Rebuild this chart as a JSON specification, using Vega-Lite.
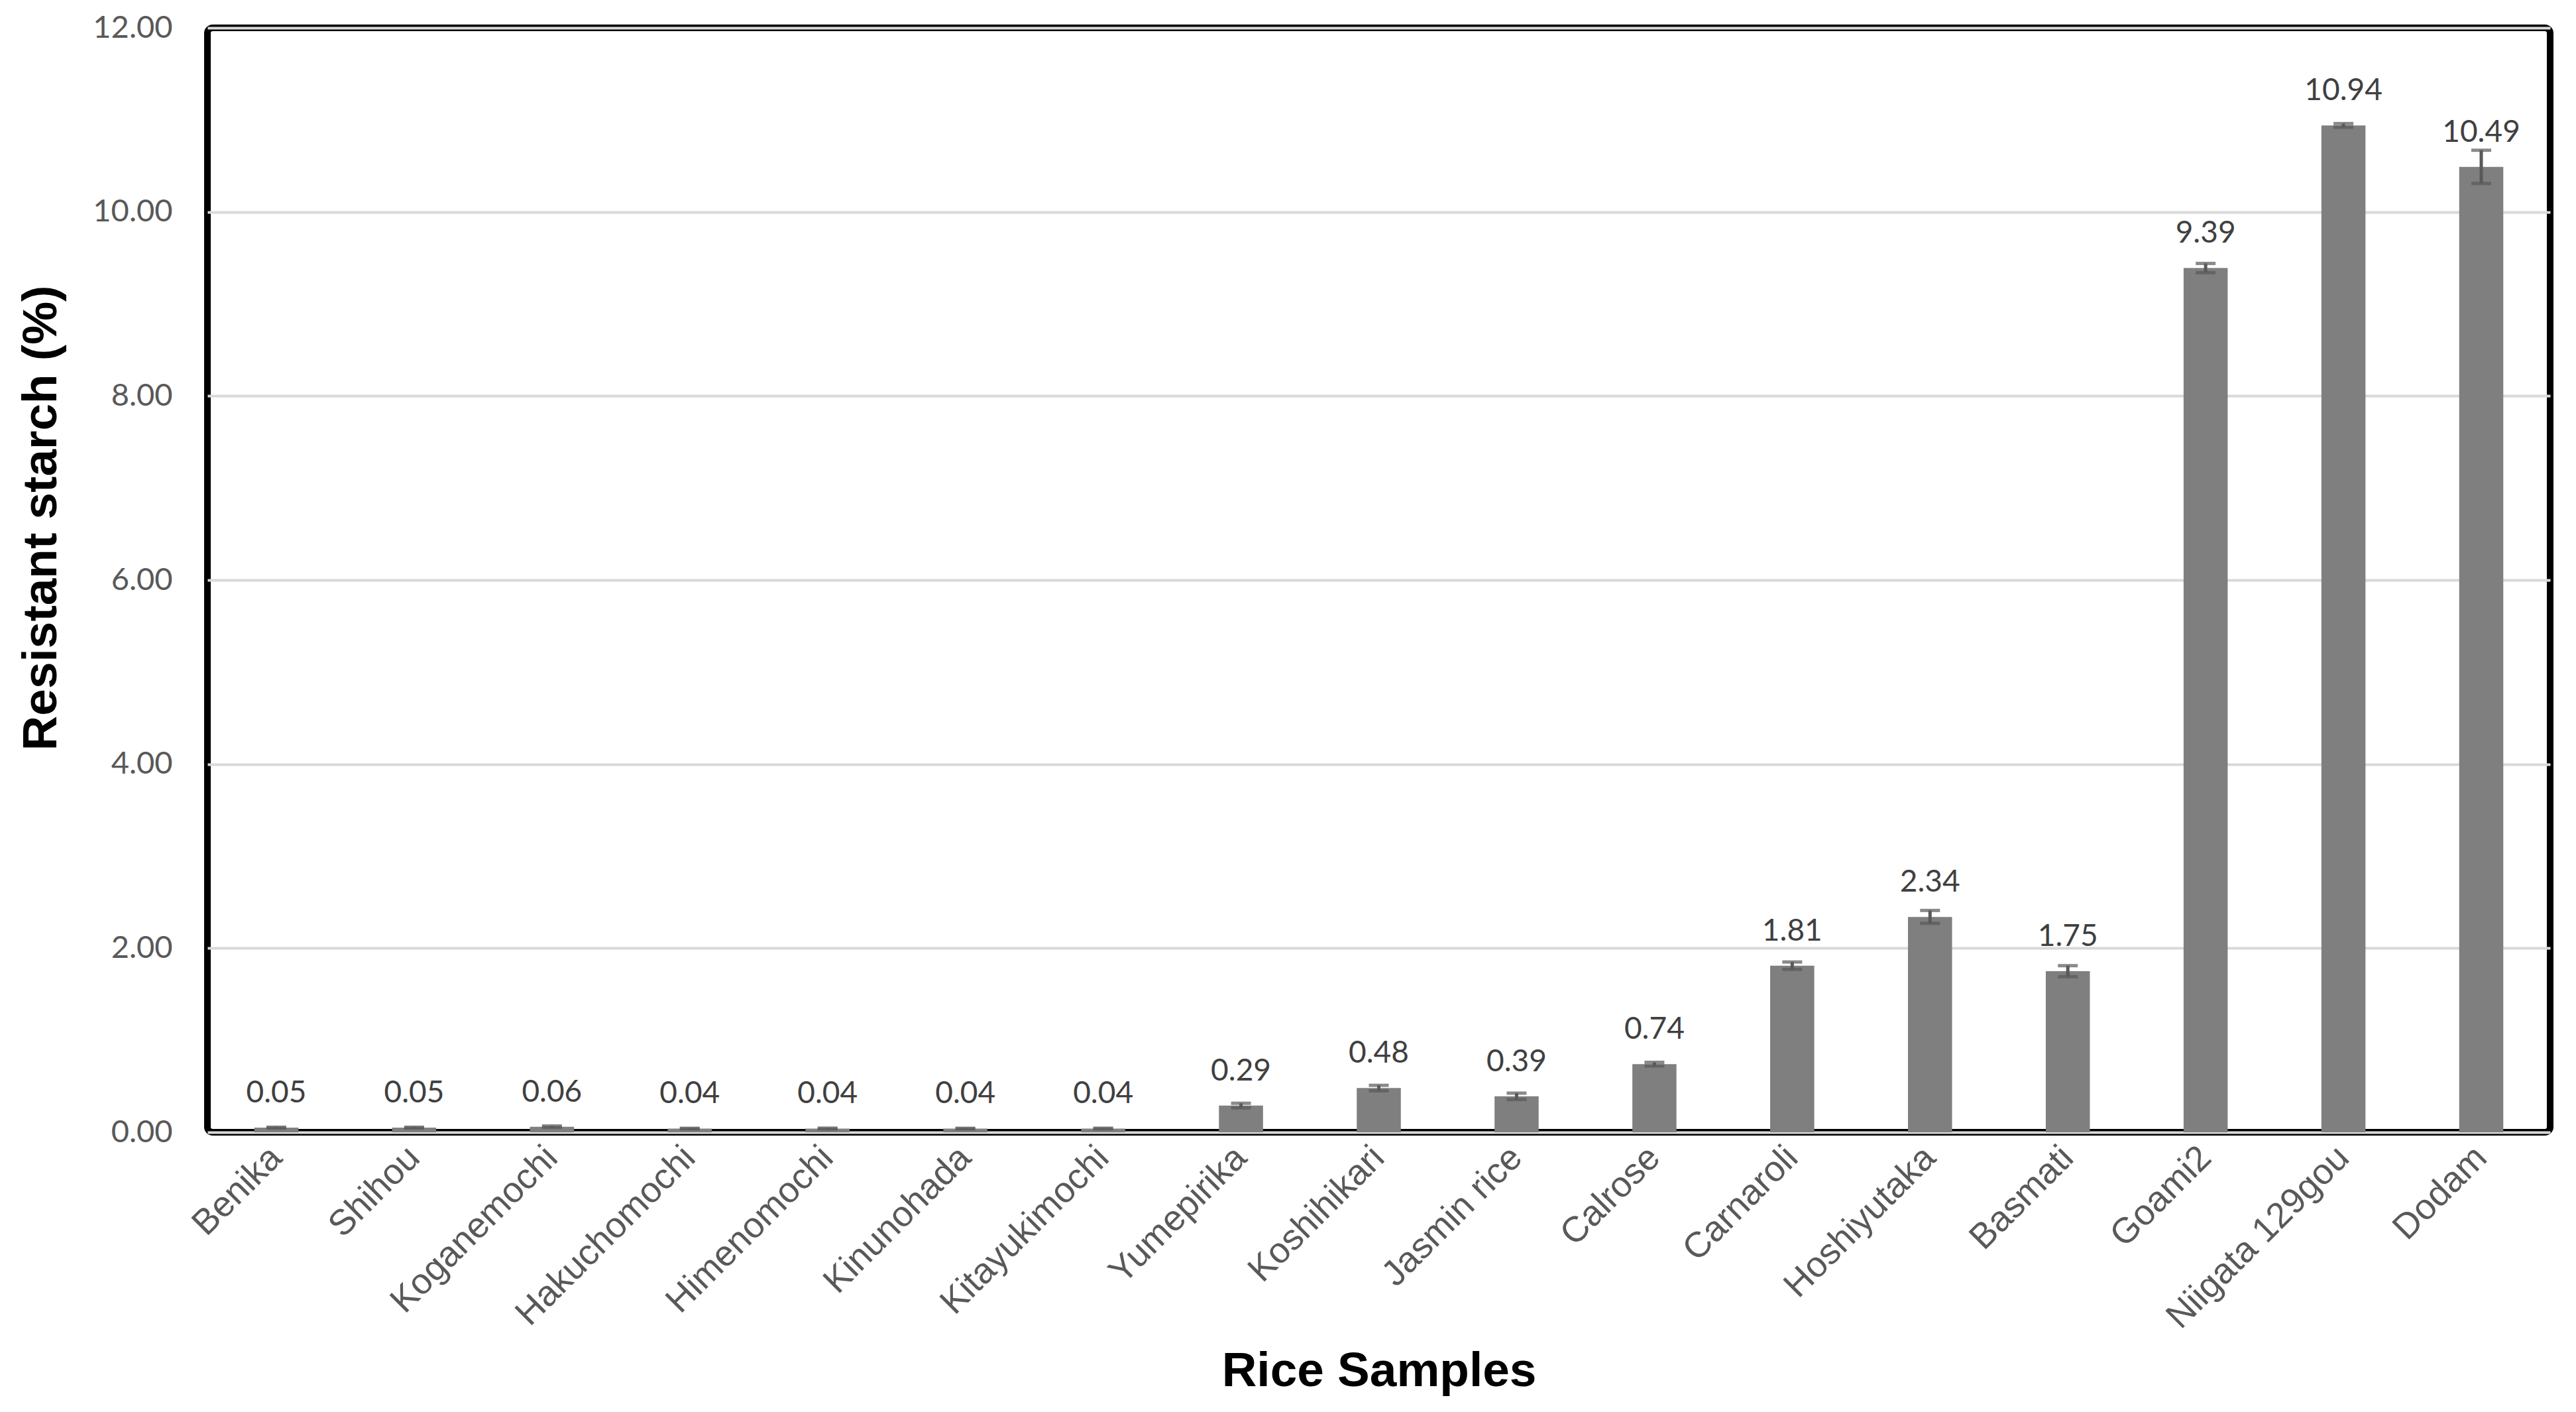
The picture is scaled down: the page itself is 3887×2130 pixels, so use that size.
{
  "$schema": "https://vega.github.io/schema/vega-lite/v6.json",
  "autosize": "none",
  "width": 3535,
  "height": 1666,
  "padding": {"left": 313, "top": 42, "right": 39, "bottom": 422},
  "background": "white",
  "config": {
    "view": {"stroke": "black", "strokeWidth": 10, "cornerRadius": 8},
    "axis": {"labelFont": "Lato", "titleFont": "Liberation Sans"}
  },
  "data": {
    "values": [
      {"sample": "Benika", "value": 0.05, "sd": 0.005},
      {"sample": "Shihou", "value": 0.05, "sd": 0.005},
      {"sample": "Koganemochi", "value": 0.06, "sd": 0.008},
      {"sample": "Hakuchomochi", "value": 0.04, "sd": 0.003},
      {"sample": "Himenomochi", "value": 0.04, "sd": 0.005},
      {"sample": "Kinunohada", "value": 0.04, "sd": 0.003},
      {"sample": "Kitayukimochi", "value": 0.04, "sd": 0.004},
      {"sample": "Yumepirika", "value": 0.29, "sd": 0.025},
      {"sample": "Koshihikari", "value": 0.48, "sd": 0.03},
      {"sample": "Jasmin rice", "value": 0.39, "sd": 0.035},
      {"sample": "Calrose", "value": 0.74, "sd": 0.02},
      {"sample": "Carnaroli", "value": 1.81, "sd": 0.04},
      {"sample": "Hoshiyutaka", "value": 2.34, "sd": 0.07},
      {"sample": "Basmati", "value": 1.75, "sd": 0.06},
      {"sample": "Goami2", "value": 9.39, "sd": 0.05},
      {"sample": "Niigata 129gou", "value": 10.94, "sd": 0.02},
      {"sample": "Dodam", "value": 10.49, "sd": 0.18}
    ]
  },
  "encoding": {
    "x": {
      "field": "sample",
      "type": "nominal",
      "sort": null,
      "scale": {"paddingInner": 0.68, "paddingOuter": 0.34},
      "axis": {
        "title": "Rice Samples",
        "titleFontSize": 73,
        "titleFontWeight": "bold",
        "titleColor": "black",
        "titleY": 382,
        "titleBaseline": "alphabetic",
        "labelFont": "Liberation Sans",
        "labelFontSize": 54,
        "labelColor": "#595959",
        "labelAngle": -45,
        "labelAlign": "right",
        "labelBaseline": "middle",
        "labelPadding": 30,
        "labelLimit": 0,
        "ticks": false,
        "domain": false,
        "grid": false
      }
    }
  },
  "layer": [
    {
      "mark": {"type": "bar", "color": "#7F7F7F"},
      "encoding": {
        "y": {
          "field": "value",
          "type": "quantitative",
          "title": "Resistant starch (%)",
          "scale": {"domain": [0, 12], "nice": false},
          "axis": {
            "title": "Resistant starch (%)",
            "titleFontSize": 73,
            "titleFontWeight": "bold",
            "titleColor": "black",
            "titlePadding": 40,
            "titleY": 739,
            "values": [0, 2, 4, 6, 8, 10, 12],
            "format": ".2f",
            "labelFontSize": 47,
            "labelColor": "#595959",
            "labelPadding": 53,
            "ticks": false,
            "domain": false,
            "grid": true,
            "gridColor": "#D9D9D9",
            "gridWidth": 4
          }
        }
      }
    },
    {
      "mark": {
        "type": "errorbar",
        "ticks": {"size": 30, "thickness": 5, "color": "#595959"},
        "rule": {"strokeWidth": 5, "color": "#595959"}
      },
      "encoding": {
        "y": {"field": "value", "type": "quantitative", "title": "Resistant starch (%)"},
        "yError": {"field": "sd"}
      }
    },
    {
      "mark": {
        "type": "text",
        "font": "Lato",
        "fontSize": 46,
        "color": "#404040",
        "baseline": "alphabetic",
        "dy": -38
      },
      "encoding": {
        "y": {"field": "value", "type": "quantitative", "title": "Resistant starch (%)"},
        "text": {"field": "value", "type": "quantitative", "format": ".2f"}
      }
    }
  ]
}
